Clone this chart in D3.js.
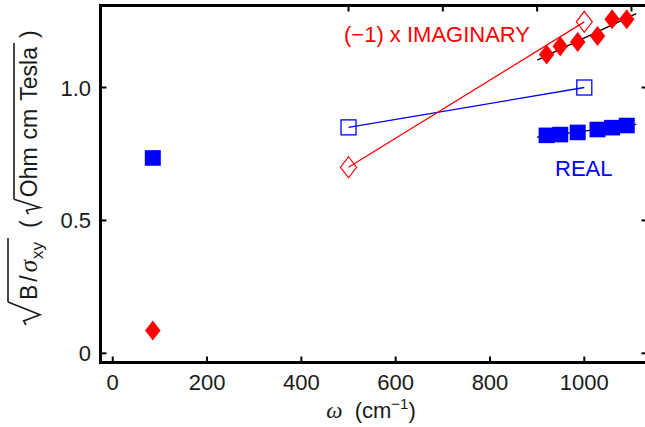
<!DOCTYPE html>
<html><head><meta charset="utf-8">
<script src="https://cdn.jsdelivr.net/npm/d3@7"></script>
<style>
html,body{margin:0;padding:0;background:#fff;}
svg{display:block;font-family:"Liberation Sans",Arial,sans-serif;}
</style></head>
<body>
<svg id="chart" width="645" height="427"></svg>
<script>
// ---- data ----
const omega = [85, 920, 949, 986, 1028, 1059, 1090];
const realVals = [0.735, 0.820, 0.823, 0.831, 0.842, 0.849, 0.857];
const imagVals = [0.086, 1.124, 1.155, 1.171, 1.194, 1.257, 1.257];
const openOmega = [500, 1000];
const openReal = [0.85, 1.0];
const openImag = [0.70, 1.247];
const fitOmega = [900, 1110];
const fitReal = [0.813, 0.861];
const fitImag = [1.103, 1.278];
const xTicks = [0, 200, 400, 600, 800, 1000];
const xTopTicks = [500, 700, 900, 1100];
const yTicks = [0, 0.5, 1.0];
const yTickLabels = ["0", "0.5", "1.0"];

const svg = d3.select("#chart");
const x = d3.scaleLinear().domain([-25.9, 1134]).range([100.5, 647.5]);
const y = d3.scaleLinear().domain([-0.0345, 1.3085]).range([362.5, 5.5]);
const BLUE = "#0000ff", RED = "#ff0000", INK = "#1a1a1a";

// fit lines (black)
const line = d3.line().x(d => x(d[0])).y(d => y(d[1]));
svg.append("path").attr("d", line(d3.zip(fitOmega, fitReal)))
  .attr("stroke", "#000").attr("stroke-width", 1.3).attr("fill", "none");
svg.append("path").attr("d", line(d3.zip(fitOmega, fitImag)))
  .attr("stroke", "#000").attr("stroke-width", 1.3).attr("fill", "none");

// open lines
svg.append("path").attr("d", line(d3.zip(openOmega, openReal)))
  .attr("stroke", BLUE).attr("stroke-width", 1.3).attr("fill", "none");
svg.append("path").attr("d", line(d3.zip(openOmega, openImag)))
  .attr("stroke", RED).attr("stroke-width", 1.3).attr("fill", "none");

// open markers
svg.selectAll(".osq").data(d3.zip(openOmega, openReal)).join("rect")
  .attr("x", d => x(d[0]) - 7.5).attr("y", d => y(d[1]) - 7.5)
  .attr("width", 15).attr("height", 15)
  .attr("fill", "none").attr("stroke", BLUE).attr("stroke-width", 1.3);
const diamond = (w, h) => `M0,${-h/2}L${w/2},0L0,${h/2}L${-w/2},0Z`;
svg.selectAll(".odi").data(d3.zip(openOmega, openImag)).join("path")
  .attr("transform", d => `translate(${x(d[0])},${y(d[1])})`)
  .attr("d", diamond(16, 21))
  .attr("fill", "none").attr("stroke", RED).attr("stroke-width", 1.2);

// filled markers
svg.selectAll(".fsq").data(d3.zip(omega, realVals)).join("rect")
  .attr("x", d => x(d[0]) - 8).attr("y", d => y(d[1]) - 7.8)
  .attr("width", 16).attr("height", 15.6).attr("fill", BLUE);
svg.selectAll(".fdi").data(d3.zip(omega, imagVals)).join("path")
  .attr("transform", d => `translate(${x(d[0])},${y(d[1])})`)
  .attr("d", diamond(15.5, 20)).attr("fill", RED);

// axes frame
const frame = svg.append("g").attr("stroke", "#000").attr("fill", "none");
frame.append("line").attr("x1", x.range()[0]).attr("x2", 645).attr("y1", y.range()[0]).attr("y2", y.range()[0]).attr("stroke-width", 3);
frame.append("line").attr("x1", x.range()[0]).attr("x2", 645).attr("y1", y.range()[1]).attr("y2", y.range()[1]).attr("stroke-width", 3);
frame.append("line").attr("x1", x.range()[0]).attr("x2", x.range()[0]).attr("y1", y.range()[1] - 1.5).attr("y2", y.range()[0] + 1.5).attr("stroke-width", 3);
frame.append("line").attr("x1", x.range()[1]).attr("x2", x.range()[1]).attr("y1", y.range()[1]).attr("y2", y.range()[0]).attr("stroke-width", 3);

// ticks
const tk = svg.append("g").attr("stroke", "#000").attr("stroke-width", 2);
xTicks.forEach(t => tk.append("line").attr("x1", x(t)).attr("x2", x(t)).attr("y1", y.range()[0]).attr("y2", y.range()[0] - 6));
xTopTicks.forEach(t => tk.append("line").attr("x1", x(t)).attr("x2", x(t)).attr("y1", y.range()[1]).attr("y2", y.range()[1] + 6));
yTicks.forEach(t => {
  tk.append("line").attr("x1", x.range()[0]).attr("x2", x.range()[0] + 6).attr("y1", y(t)).attr("y2", y(t));
  tk.append("line").attr("x1", x.range()[1]).attr("x2", x.range()[1] - 6).attr("y1", y(t)).attr("y2", y(t));
});

// tick labels
const lab = svg.append("g").attr("fill", INK).attr("font-size", 22);
xTicks.forEach(t => lab.append("text").attr("x", x(t)).attr("y", 390).attr("text-anchor", "middle").text(t));
yTicks.forEach((t, i) => lab.append("text").attr("x", 91).attr("y", y(t) + 8).attr("text-anchor", "end").text(yTickLabels[i]));

// annotations
svg.append("text").attr("x", 344).attr("y", 42).attr("fill", RED).attr("font-size", 22).text("(\u22121) x IMAGINARY");
svg.append("text").attr("x", 555).attr("y", 176).attr("fill", BLUE).attr("font-size", 22).text("REAL");

// x axis title
const xt = svg.append("text").attr("x", 371).attr("y", 418).attr("text-anchor", "middle").attr("fill", INK).attr("font-size", 22).attr("xml:space", "preserve");
xt.append("tspan").attr("font-family", "'Liberation Serif',serif").attr("font-style", "italic").attr("font-size", 23).text("\u03c9");
xt.append("tspan").text("  (cm");
xt.append("tspan").attr("dy", -9).attr("font-size", 15).text("\u22121");
xt.append("tspan").attr("dy", 9).text(")");

// y axis title (rotated)
const yg = svg.append("g").attr("transform", "translate(37,325) rotate(-90)").attr("fill", INK);
let cx = 0;
const FS = 23;
function piece(txt, opts = {}) {
  const t = yg.append("text").attr("x", cx).attr("y", opts.dy || 0)
    .attr("font-size", opts.size || FS).text(txt);
  if (opts.italic) t.attr("font-style", "italic").attr("font-family", "'Liberation Serif',serif");
  cx += t.node().getComputedTextLength() + (opts.gap || 0);
  return t;
}
function radical(w, h) {
  const x0 = cx;
  yg.append("path").attr("fill", "none").attr("stroke", INK).attr("stroke-width", 1.6)
    .attr("d", `M${x0},${-h*0.38}L${x0+4},${-h*0.46}L${x0+w*0.45},${3}L${x0+w},${-h}`);
  cx += w + 2;
  return {x: x0 + w, y: -h};
}
const r1 = radical(23, 29);
piece("B", {gap: 3});
piece("/", {gap: 3});
piece("\u03c3", {italic: true, size: 25, gap: 1});
piece("xy", {size: 17, dy: 6, gap: 4});
yg.append("line").attr("x1", r1.x).attr("x2", cx).attr("y1", r1.y).attr("y2", r1.y).attr("stroke", INK).attr("stroke-width", 1.6);
cx += 10;
piece("(", {gap: 6});
const r2 = radical(15, 23);
piece("Ohm", {gap: 8});
piece("cm", {gap: 8});
piece("Tesla", {gap: 4});
yg.append("line").attr("x1", r2.x).attr("x2", cx).attr("y1", r2.y).attr("y2", r2.y).attr("stroke", INK).attr("stroke-width", 1.6);
cx += 5;
piece(")");
</script>
</body></html>
